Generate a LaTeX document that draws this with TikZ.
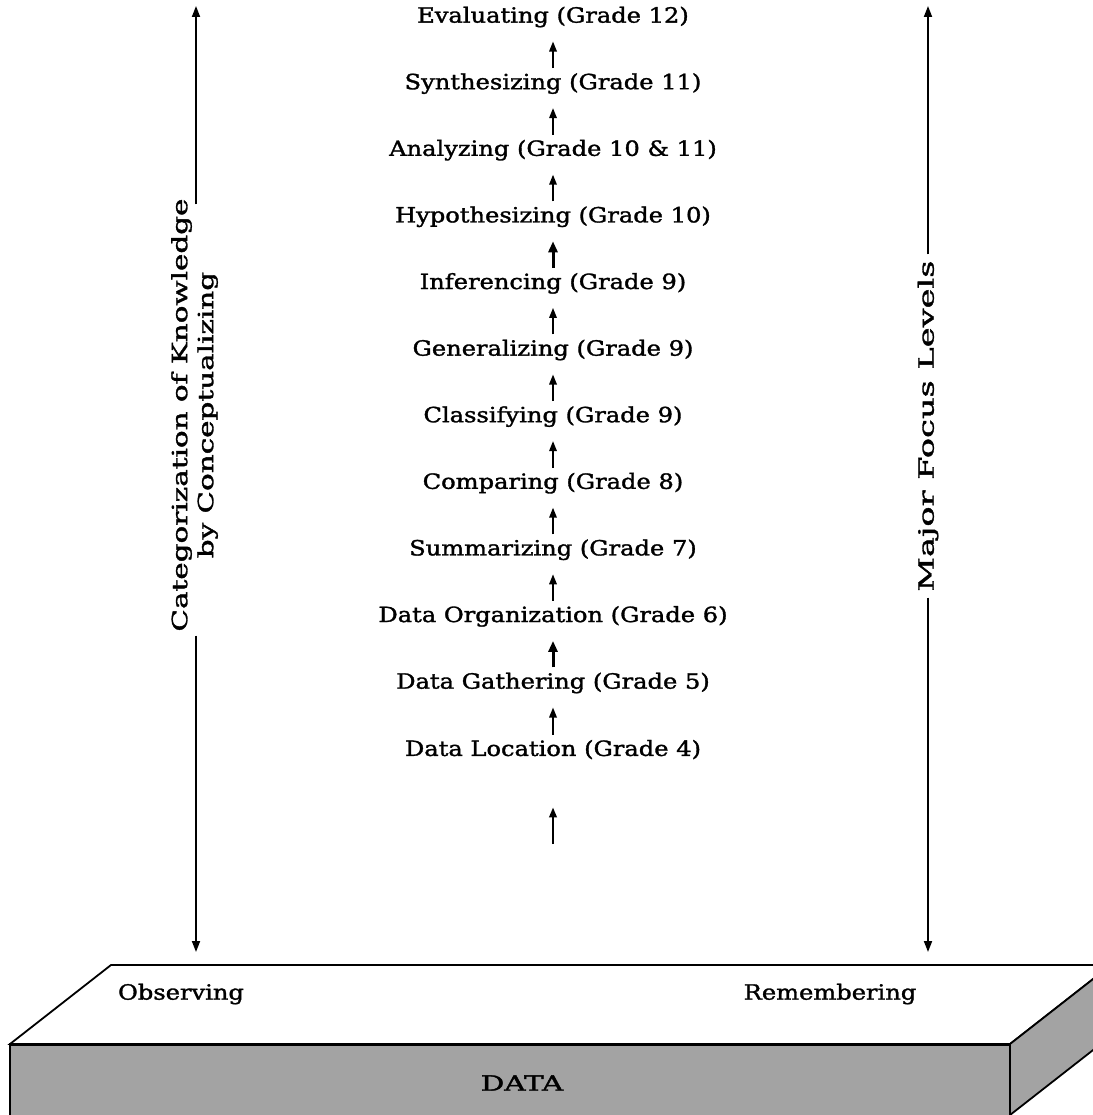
\documentclass[tikz,border=0pt]{standalone}
\usepackage{fontspec}
\setmainfont{DejaVu Serif}[FakeBold=1.4]
\usetikzlibrary{arrows.meta}

% horizontally widened text, as in the printed figure
\newcommand{\wtxt}[2][1.15]{\scalebox{#1}[1]{#2}}

\begin{document}
\begin{tikzpicture}[x=1pt,y=-1pt,
  lvl/.style={inner sep=0pt, font=\fontsize{21}{25}\selectfont},
  side/.style={inner xsep=4pt, inner ysep=0pt, font=\fontsize{21}{26}\selectfont},
  up/.style={line width=1.7pt, -{Triangle[length=10pt,width=7.5pt]},
             shorten >=14pt, shorten <=5pt},
  upbold/.style={up, line width=3pt, -{Triangle[length=11pt,width=9pt]}},
  axisend/.style={line width=1.8pt, -{Triangle[length=11pt,width=8pt]}},
  edge/.style={line width=1.8pt, line join=miter},
  slabgray/.style={fill=black!36}
]
\useasboundingbox (0,0) rectangle (1092,1115);

% ---- hierarchy of thinking levels ----
\node[lvl] (eval)  at (553, 17.0) {\wtxt{Evaluating (Grade 12)}};
\node[lvl] (synth) at (553, 83.6) {\wtxt{Synthesizing (Grade 11)}};
\node[lvl] (anal)  at (553,150.2) {\wtxt{Analyzing (Grade 10 \& 11)}};
\node[lvl] (hypo)  at (553,216.8) {\wtxt{Hypothesizing (Grade 10)}};
\node[lvl] (infer) at (553,283.4) {\wtxt{Inferencing (Grade 9)}};
\node[lvl] (gener) at (553,350.0) {\wtxt{Generalizing (Grade 9)}};
\node[lvl] (class) at (553,416.6) {\wtxt{Classifying (Grade 9)}};
\node[lvl] (comp)  at (553,483.2) {\wtxt{Comparing (Grade 8)}};
\node[lvl] (summ)  at (553,549.8) {\wtxt{Summarizing (Grade 7)}};
\node[lvl] (dorg)  at (553,616.4) {\wtxt{Data Organization (Grade 6)}};
\node[lvl] (dgath) at (553,683.0) {\wtxt{Data Gathering (Grade 5)}};
\node[lvl] (dloc)  at (553,749.6) {\wtxt{Data Location (Grade 4)}};
\coordinate (base) at (553,844);

\draw[up]     (synth) -- (eval);
\draw[up]     (anal)  -- (synth);
\draw[up]     (hypo)  -- (anal);
\draw[upbold] (infer) -- (hypo);
\draw[up]     (gener) -- (infer);
\draw[up]     (class) -- (gener);
\draw[up]     (comp)  -- (class);
\draw[up]     (summ)  -- (comp);
\draw[up]     (dorg)  -- (summ);
\draw[upbold] (dgath) -- (dorg);
\draw[up]     (dloc)  -- (dgath);
\draw[up, line width=2.2pt, shorten >=48pt, shorten <=0pt] (base) -- (dloc);

% ---- left axis ----
\node[side, rotate=90] (catlab) at (195,415)
  {\wtxt[1.4]{\begin{tabular}{@{}c@{}}Categorization of Knowledge\\ by Conceptualizing\end{tabular}}};
\coordinate (ltop) at (196,6);
\coordinate (lbot) at (196,952);
\draw[axisend] ([xshift=1pt,yshift=-10pt]catlab.east) -- (ltop);
\draw[axisend] ([xshift=1pt]catlab.west) -- (lbot);

% ---- right axis ----
\node[side, rotate=90, inner xsep=6pt] (mfl) at (928,426) {\wtxt[1.6]{Major Focus Levels}};
\coordinate (rtop) at (928,6);
\coordinate (rbot) at (928,952);
\draw[axisend] (mfl.east) -- (rtop);
\draw[axisend] (mfl.west) -- (rbot);

% ---- DATA slab ----
\draw[edge, fill=white] (111,965) -- (1111,965) -- (1010,1044) -- (10,1044) -- cycle;
\draw[edge, slabgray] (10,1044) -- (1010,1044) -- (1010,1118) -- (10,1118) -- cycle;
\draw[edge, slabgray] (1010,1044) -- (1111,965) -- (1111,1036) -- (1010,1115) -- cycle;
\draw[line width=3pt] (10,1044) -- (1010,1044);

\node[lvl] (obs) at (181,994) {\wtxt{Observing}};
\node[lvl] (rem) at (830,994) {\wtxt{Remembering}};
\node[lvl] (data) at (522,1083) {\wtxt[1.4]{DATA}};
\end{tikzpicture}
\end{document}
